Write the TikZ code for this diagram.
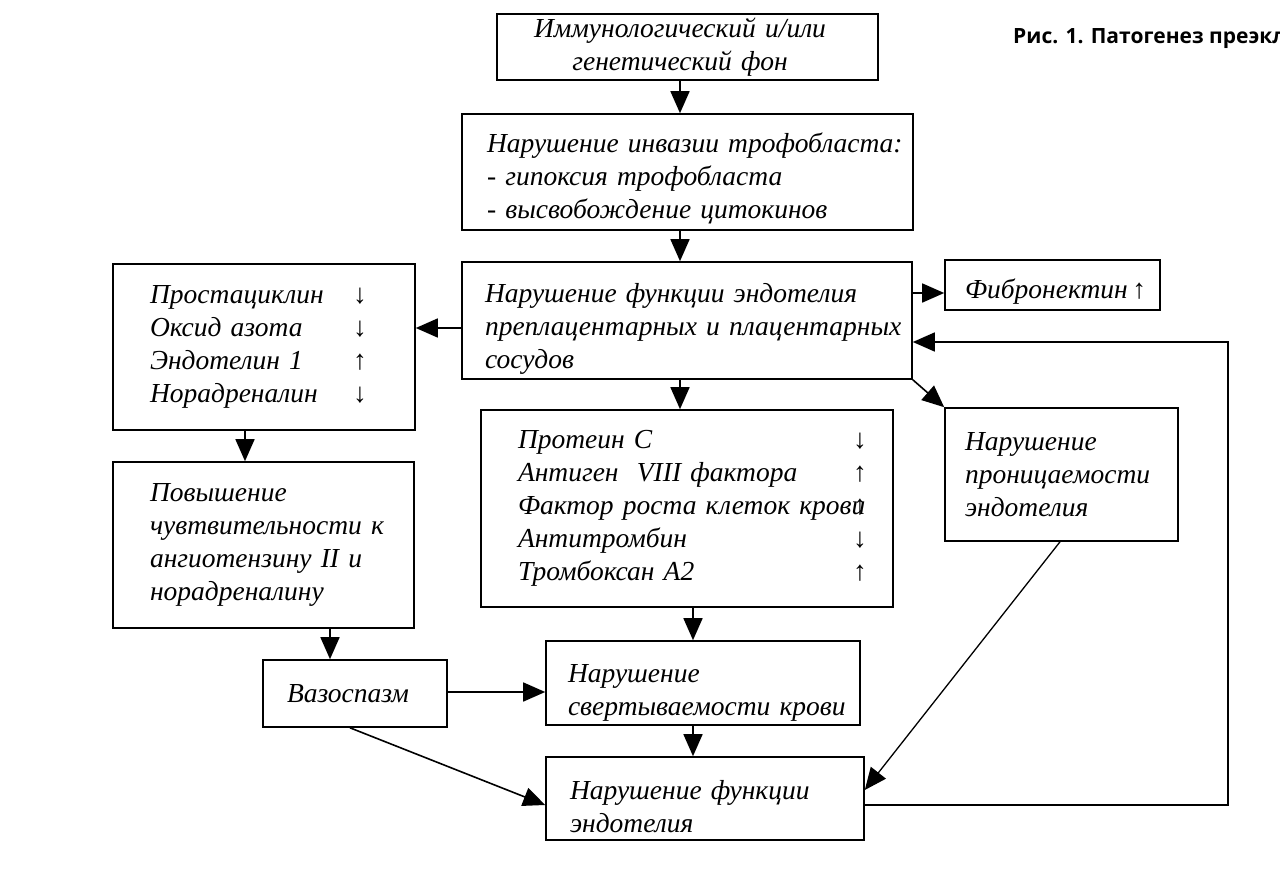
\documentclass[tikz,border=0pt]{standalone}
\usepackage{fontspec}
\setmainfont{Liberation Serif}
\newfontfamily\capfont{Open Sans}
\usetikzlibrary{arrows.meta}
\newcommand{\dn}[1]{\rule{0pt}{#1pt}}
\newcommand{\lft}[1]{\leftskip=#1pt\relax}
\begin{document}
\begin{tikzpicture}[x=1pt,y=-1pt,
  bx/.style={draw, line width=1.6pt, align=left, inner xsep=0pt, inner ysep=2pt,
    font=\fontsize{27.5}{33}\selectfont\itshape},
  arr/.style={line width=1.6pt, -{Triangle[length=22pt,width=19pt]}},
  thinarr/.style={line width=1.3pt, -{Triangle[length=22pt,width=19pt]}}]
\useasboundingbox (0,0) rectangle (1280,886);
\fill[white] (0,0) rectangle (1280,886);

\node[anchor=base west, inner sep=0pt, font=\capfont\bfseries\fontsize{21}{24}\selectfont] (cap) at (1013,43) {Рис. 1. Патогенез преэкл};

\node[bx, minimum height=66pt, text width=381pt] (b1) at (687.5,47)
  {\leftskip=0pt plus 1fil\rightskip=15pt plus 1fil\parfillskip=0pt\relax Иммунологический и/или\par генетический фон\par};
\node[bx, minimum height=116pt, text width=451pt] (b2) at (687.5,172)
  {\lft{25}\dn{33}Нарушение инвазии трофобласта:\\- гипоксия трофобласта\\- высвобождение цитокинов\par};
\node[bx, minimum height=117pt, text width=450pt] (b3) at (687,320.5)
  {\lft{23}\dn{35}Нарушение функции эндотелия\\преплацентарных и плацентарных\\сосудов\par};
\node[bx, minimum height=166pt, text width=302pt] (l1) at (264,347)
  {\lft{37}\makebox[203pt][l]{Простациклин}{\upshape↓}\\
   \makebox[203pt][l]{Оксид азота}{\upshape↓}\\
   \makebox[203pt][l]{Эндотелин 1}{\upshape↑}\\
   \makebox[203pt][l]{Норадреналин}{\upshape↓}\par};
\node[bx, minimum height=50pt, text width=215pt] (fib) at (1052.5,285)
  {\lft{20}\dn{33}Фибронектин\,{\upshape↑}\par};
\node[bx, minimum height=133pt, text width=233pt] (pr) at (1061.5,474.5)
  {\lft{20}Нарушение\\проницаемости\\эндотелия\par};
\node[bx, minimum height=197pt, text width=412pt] (m) at (687,508.5)
  {\lft{37}\makebox[335pt][l]{Протеин С}{\upshape↓}\\
   \makebox[335pt][l]{Антиген\ \ VIII фактора}{\upshape↑}\\
   \makebox[335pt][l]{Фактор роста клеток крови}{\upshape↑}\\
   \makebox[335pt][l]{Антитромбин}{\upshape↓}\\
   \makebox[335pt][l]{Тромбоксан А2}{\upshape↑}\par};
\node[bx, minimum height=166pt, text width=301pt] (l2) at (263.5,545)
  {\lft{37}Повышение\\чувтвительности к\\ангиотензину II и\\норадреналину\par};
\node[bx, minimum height=67pt, text width=184pt] (v) at (355,693.5)
  {\lft{24}Вазоспазм\par};
\node[bx, minimum height=84pt, text width=314pt] (s) at (703,683)
  {\lft{22}\dn{37}Нарушение\\свертываемости крови\par};
\node[bx, minimum height=83pt, text width=318pt] (b) at (705,798.5)
  {\lft{24}\dn{35}Нарушение функции\\эндотелия\par};

\draw[arr] (b1.south -| 680,0) -- (b2.north -| 680,0);
\draw[arr] (b2.south -| 680,0) -- (b3.north -| 680,0);
\draw[arr] (b3.west |- 0,328) -- (l1.east |- 0,328);
\draw[arr] (b3.east |- 0,293) -- (fib.west |- 0,293);
\draw[arr] (b3.south east) -- (pr.north west);
\draw[arr] (b3.south -| 680,0) -- (m.north -| 680,0);
\draw[arr] (l1.south -| 245,0) -- (l2.north -| 245,0);
\draw[arr] (l2.south -| 330,0) -- (v.north -| 330,0);
\draw[arr] (m.south -| 693,0) -- (s.north -| 693,0);
\draw[arr] (v.east |- 0,692) -- (s.west |- 0,692);
\draw[arr] (s.south -| 693,0) -- (b.north -| 693,0);
\draw[arr] (v.south -| 350,0) -- (b.west |- 0,805);
\draw[thinarr] (pr.south -| 1060,0) -- (b.east |- 0,790);
\coordinate (lpA) at (1228,805);
\coordinate (lpB) at (1228,342);
\draw[arr] (b.east |- lpA) -- (lpA) -- (lpB) -- (b3.east |- lpB);
\end{tikzpicture}
\end{document}
